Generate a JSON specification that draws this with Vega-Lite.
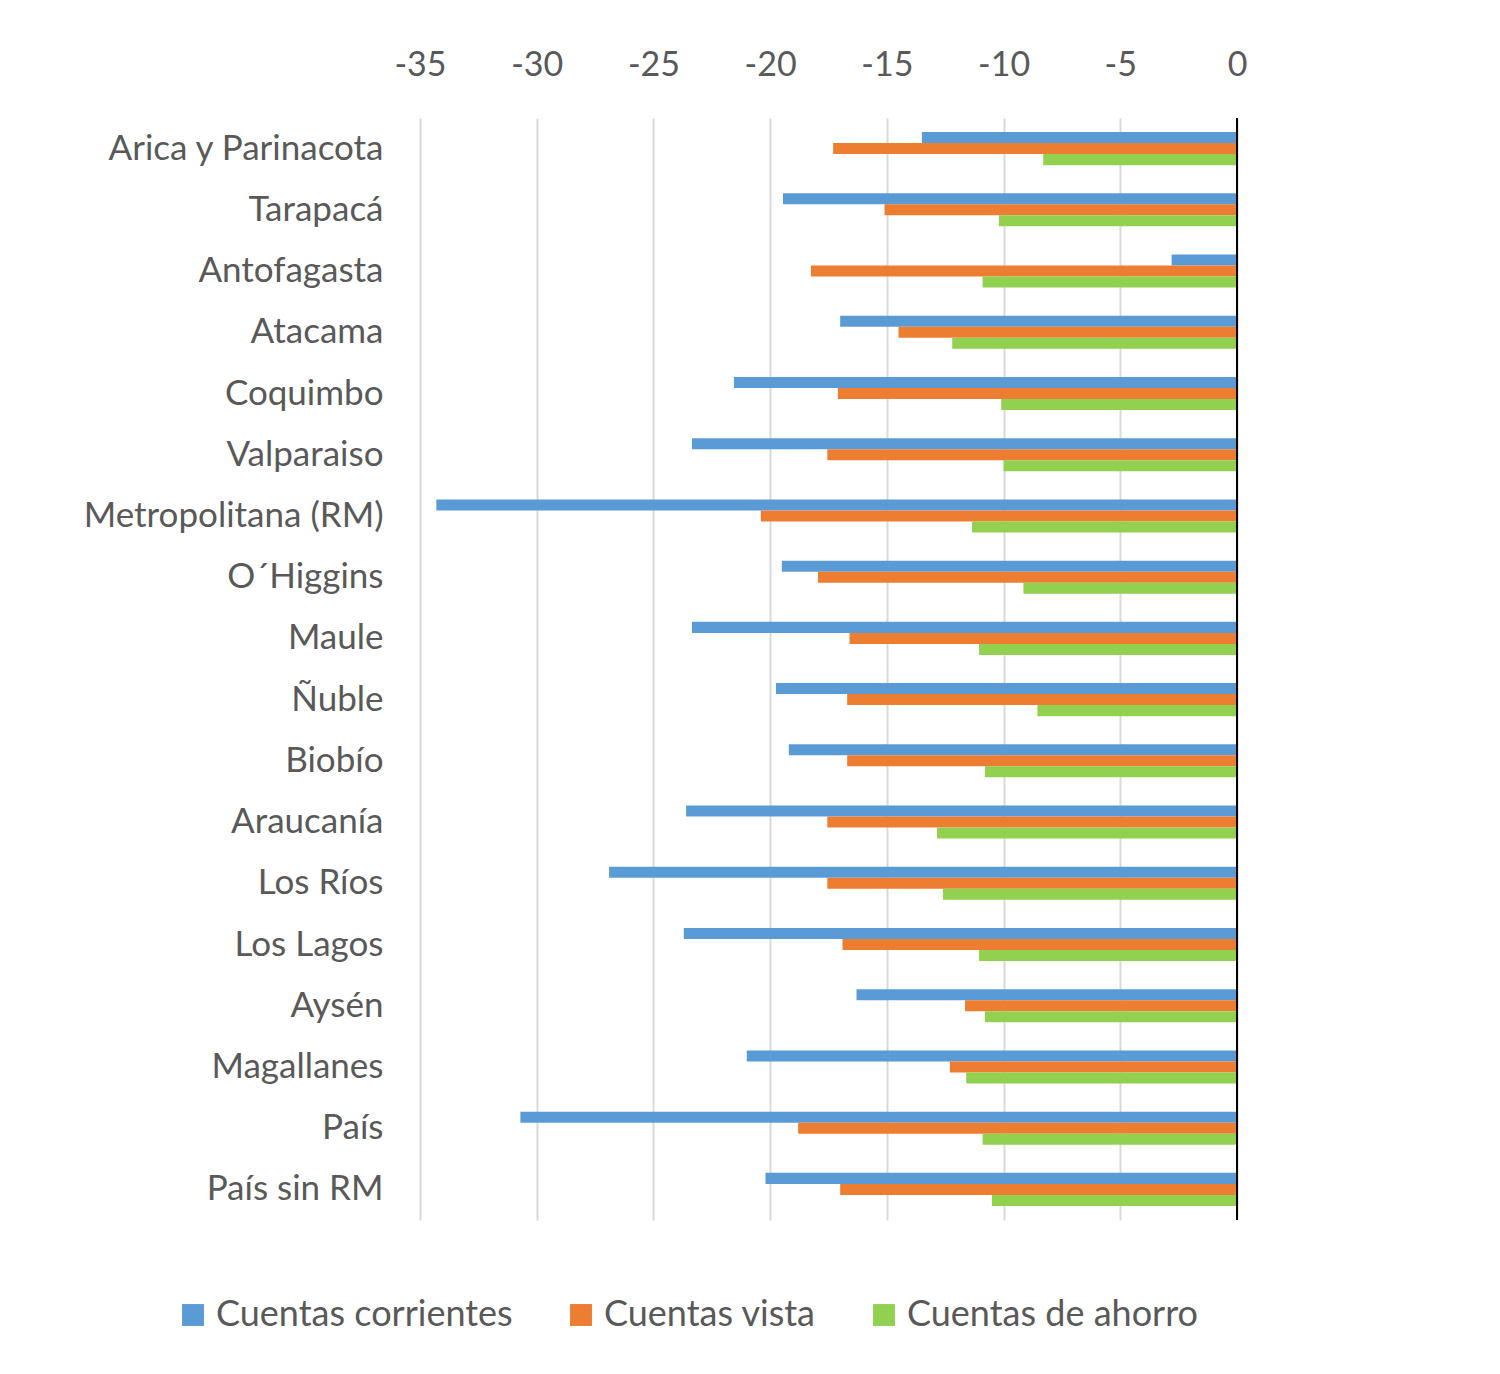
{
  "$schema": "https://vega.github.io/schema/vega-lite/v6.json",
  "width": 817,
  "height": 1102,
  "autosize": "none",
  "padding": {"left": 420, "top": 118, "right": 263, "bottom": 154},
  "background": "white",
  "config": {
    "view": {"stroke": null},
    "font": "Lato",
    "axis": {"labelFont": "Lato", "labelColor": "#595959"},
    "legend": {"labelFont": "Lato", "labelColor": "#595959"}
  },
  "data": {
    "values": [
      {"region": "Arica y Parinacota", "Cuentas corrientes": -13.5, "Cuentas vista": -17.3, "Cuentas de ahorro": -8.3},
      {"region": "Tarapacá", "Cuentas corrientes": -19.45, "Cuentas vista": -15.1, "Cuentas de ahorro": -10.2},
      {"region": "Antofagasta", "Cuentas corrientes": -2.8, "Cuentas vista": -18.25, "Cuentas de ahorro": -10.9},
      {"region": "Atacama", "Cuentas corrientes": -17.0, "Cuentas vista": -14.5, "Cuentas de ahorro": -12.2},
      {"region": "Coquimbo", "Cuentas corrientes": -21.55, "Cuentas vista": -17.1, "Cuentas de ahorro": -10.1},
      {"region": "Valparaiso", "Cuentas corrientes": -23.35, "Cuentas vista": -17.55, "Cuentas de ahorro": -10.0},
      {"region": "Metropolitana (RM)", "Cuentas corrientes": -34.3, "Cuentas vista": -20.4, "Cuentas de ahorro": -11.35},
      {"region": "O´Higgins", "Cuentas corrientes": -19.5, "Cuentas vista": -17.95, "Cuentas de ahorro": -9.15},
      {"region": "Maule", "Cuentas corrientes": -23.35, "Cuentas vista": -16.6, "Cuentas de ahorro": -11.05},
      {"region": "Ñuble", "Cuentas corrientes": -19.75, "Cuentas vista": -16.7, "Cuentas de ahorro": -8.55},
      {"region": "Biobío", "Cuentas corrientes": -19.2, "Cuentas vista": -16.7, "Cuentas de ahorro": -10.8},
      {"region": "Araucanía", "Cuentas corrientes": -23.6, "Cuentas vista": -17.55, "Cuentas de ahorro": -12.85},
      {"region": "Los Ríos", "Cuentas corrientes": -26.9, "Cuentas vista": -17.55, "Cuentas de ahorro": -12.6},
      {"region": "Los Lagos", "Cuentas corrientes": -23.7, "Cuentas vista": -16.9, "Cuentas de ahorro": -11.05},
      {"region": "Aysén", "Cuentas corrientes": -16.3, "Cuentas vista": -11.65, "Cuentas de ahorro": -10.8},
      {"region": "Magallanes", "Cuentas corrientes": -21.0, "Cuentas vista": -12.3, "Cuentas de ahorro": -11.6},
      {"region": "País", "Cuentas corrientes": -30.7, "Cuentas vista": -18.8, "Cuentas de ahorro": -10.9},
      {"region": "País sin RM", "Cuentas corrientes": -20.2, "Cuentas vista": -17.0, "Cuentas de ahorro": -10.5}
    ]
  },
  "layer": [
    {
      "transform": [
        {"fold": ["Cuentas corrientes", "Cuentas vista", "Cuentas de ahorro"], "as": ["serie", "valor"]}
      ],
      "mark": {"type": "bar"},
      "encoding": {
        "y": {
          "field": "region",
          "type": "nominal",
          "sort": null,
          "scale": {"paddingInner": 0.46, "paddingOuter": 0.23},
          "axis": {
            "title": null,
            "ticks": false,
            "domain": false,
            "labelFontSize": 35,
            "labelPadding": 37,
            "labelLimit": 500
          }
        },
        "yOffset": {
          "field": "serie",
          "sort": ["Cuentas corrientes", "Cuentas vista", "Cuentas de ahorro"]
        },
        "x": {
          "field": "valor",
          "type": "quantitative",
          "scale": {"domain": [-35, 0], "nice": false},
          "axis": {
            "orient": "top",
            "title": null,
            "values": [-35, -30, -25, -20, -15, -10, -5, 0],
            "labelExpr": "'' + datum.value",
            "labelFlush": false,
            "ticks": false,
            "domain": false,
            "labelFontSize": 34,
            "labelPadding": 36,
            "gridColor": "#d9d9d9",
            "gridWidth": 2
          }
        },
        "color": {
          "field": "serie",
          "type": "nominal",
          "scale": {
            "domain": ["Cuentas corrientes", "Cuentas vista", "Cuentas de ahorro"],
            "range": ["#5B9BD5", "#ED7D31", "#92D050"]
          },
          "legend": {
            "title": null,
            "orient": "none",
            "direction": "horizontal",
            "legendX": -245,
            "legendY": 1179,
            "symbolType": "square",
            "symbolSize": 480,
            "symbolStrokeWidth": 0,
            "labelFontSize": 36,
            "labelOffset": 5,
            "columnPadding": 50,
            "labelLimit": 500
          }
        }
      }
    },
    {
      "mark": {"type": "rule", "color": "#000000", "strokeWidth": 2},
      "encoding": {"x": {"datum": 0}}
    }
  ]
}
